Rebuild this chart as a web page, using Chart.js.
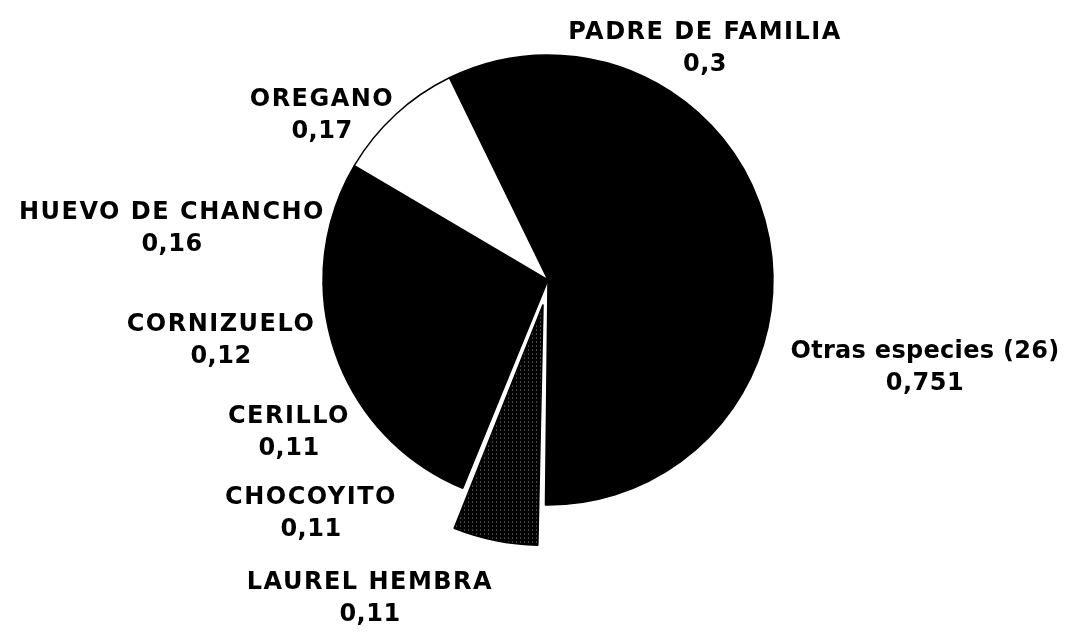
<!DOCTYPE html>
<html>
<head>
<meta charset="utf-8">
<script src="https://cdn.jsdelivr.net/npm/chart.js@4"></script>
<style>
html,body{margin:0;padding:0;background:#fff;}
#wrap{width:1076px;height:632px;position:relative;}
</style>
</head>
<body>
<div id="wrap"><canvas id="c" width="1076" height="632"></canvas></div>
<script>
// ---- data ----
const categories = ["PADRE DE FAMILIA", "Otras especies (26)", "LAUREL HEMBRA", "CHOCOYITO", "CERILLO", "CORNIZUELO", "HUEVO DE CHANCHO", "OREGANO"];
const values = [0.3, 0.751, 0.11, 0.11, 0.11, 0.12, 0.16, 0.17];
const valueLabels = ["0,3", "0,751", "0,11", "0,11", "0,11", "0,12", "0,16", "0,17"];

// ---- style / layout ----
function makePattern() {
  const p = document.createElement('canvas');
  p.width = 4; p.height = 4;
  const g = p.getContext('2d');
  g.fillStyle = '#000'; g.fillRect(0, 0, 4, 4);
  g.fillStyle = '#999';
  g.fillRect(1, 1, 1, 1);
  return g.createPattern(p, 'repeat');
}
const colors = ['#000000', '#000000', makePattern(), '#000000', '#000000', '#000000', '#000000', '#ffffff'];
const offsets = [0, 0, 100, 0, 0, 0, 0, 0];
// label text anchor positions relative to pie centre (px)
const labelPos = [
  [157, -247], [377, 72], [-178, 303], [-237, 218], [-259, 137], [-327, 45], [-376, -67], [-226, -180]
];

const labelPlugin = {
  id: 'labels',
  afterDraw(chart) {
    const ctx = chart.ctx;
    const arc = chart.getDatasetMeta(0).data[0];
    const cx = arc.x, cy = arc.y;
    ctx.save();
    ctx.fillStyle = '#000';
    ctx.textAlign = 'center';
    ctx.textBaseline = 'middle';
    categories.forEach((name, i) => {
      const x = cx + labelPos[i][0], y = cy + labelPos[i][1];
      const caps = name === name.toUpperCase();
      ctx.font = 'bold 24px "DejaVu Sans"';
      try { ctx.letterSpacing = caps ? '1.5px' : '0.3px'; } catch (e) {}
      ctx.fillText(name, x, y);
      try { ctx.letterSpacing = '0.5px'; } catch (e) {}
      ctx.fillText(valueLabels[i], x, y + 32);
    });
    ctx.restore();
  }
};

new Chart(document.getElementById('c'), {
  type: 'pie',
  data: {
    labels: categories,
    datasets: [{
      data: values,
      backgroundColor: colors,
      borderColor: '#000',
      borderWidth: 1.5,
      offset: offsets,
      hoverOffset: 0,
      radius: 225
    }]
  },
  options: {
    responsive: false,
    animation: false,
    rotation: -26,
    layout: { padding: { left: 20, right: 0, top: 0, bottom: 72 } },
    plugins: { legend: { display: false }, tooltip: { enabled: false } },
    events: []
  },
  plugins: [labelPlugin]
});
</script>
</body>
</html>
